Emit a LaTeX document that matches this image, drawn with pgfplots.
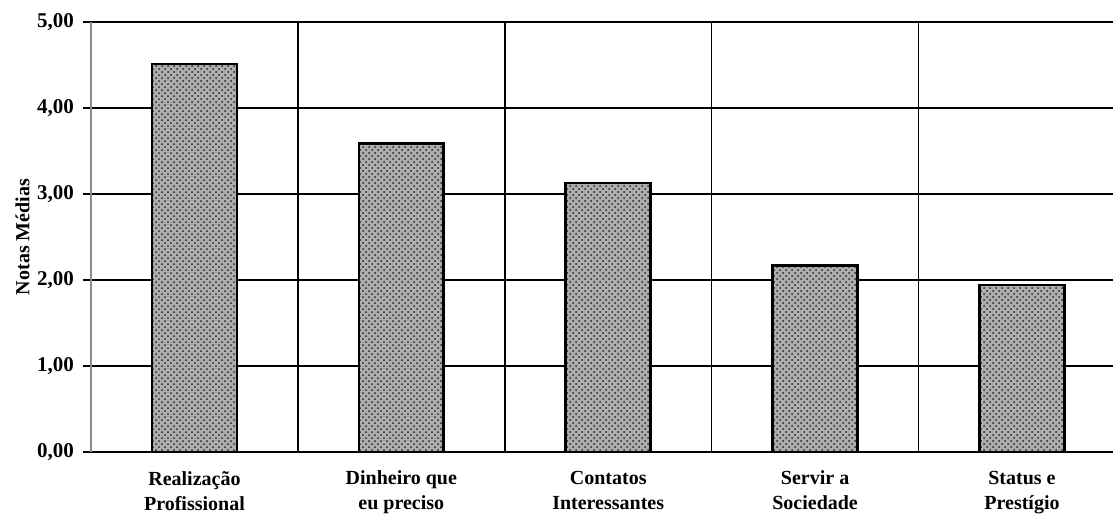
\documentclass[border=0pt]{standalone}
\usepackage{pgfplots}
\pgfplotsset{compat=1.18}
\usepackage{fontspec}
\setmainfont{Liberation Serif}
\usetikzlibrary{patterns}

\begin{document}
\begin{tikzpicture}
\begin{axis}[
  name=main,
  scale only axis,
  width=511pt, height=215pt,
  xmin=-0.5, xmax=4.44,
  ymin=0, ymax=5,
  axis lines*=left,
  x axis line style={black, line width=0.8pt},
  y axis line style={black!45, line width=0.6pt},
  ytick={0,1,2,3,4,5},
  ymajorgrids,
  major grid style={black, line width=0.8pt},
  y tick style={black, line width=0.8pt},
  tick align=outside,
  major tick length=4pt,
  yticklabel style={font=\bfseries\fontsize{10.5}{12}\selectfont, xshift=-1pt},
  /pgf/number format/.cd, fixed, fixed zerofill, precision=2, use comma, assume math mode=true,
  /pgfplots/.cd,
  xtick={0,1,2,3,4},
  xticklabels={Realização\\Profissional, Dinheiro que\\eu preciso, Contatos\\Interessantes, Servir a\\Sociedade, Status e\\Prestígio},
  xticklabel style={font=\bfseries\fontsize{10}{12.5}\selectfont, align=center, yshift=-2pt},
  x tick style={draw=none},
  extra x ticks={0.5,1.5,2.5,3.5},
  extra x tick labels={},
  extra x tick style={grid=major, tick style={draw=black, line width=0.8pt}, major tick length=5pt},
  ylabel={Notas Médias},
  ylabel style={font=\bfseries\fontsize{10}{12}\selectfont},
  ylabel shift=-3pt,
  clip=false,
  ybar, bar width=0.41,
]
\addplot[draw=black, line width=1.3pt, fill=black!32,
  postaction={pattern=crosshatch dots, pattern color=black!85}]
  coordinates {(0,4.51) (1,3.59) (2,3.13) (3,2.17) (4,1.94)};
\end{axis}
\pgfresetboundingbox
\useasboundingbox (main.south west) ++(-45.5pt,-32pt) rectangle ++(556.5pt,258pt);
\end{tikzpicture}
\end{document}
